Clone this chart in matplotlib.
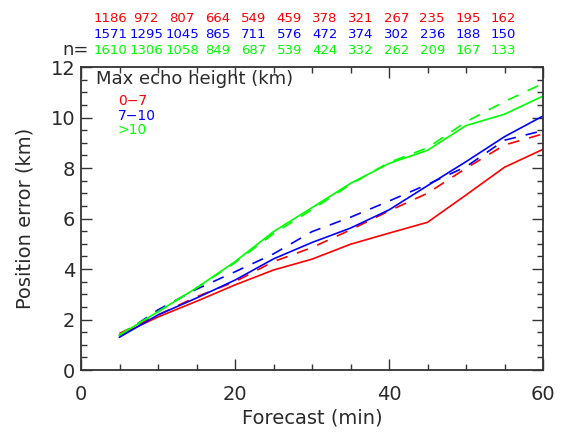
import numpy as np
import matplotlib
matplotlib.use('Agg')
import matplotlib.pyplot as plt
from matplotlib.ticker import MultipleLocator

# forecast lead times (min)
lead = [5, 10, 15, 20, 25, 30, 35, 40, 45, 50, 55, 60]

# position error (km), solid and dashed curves per echo-height class
red_solid = [1.38, 2.10, 2.72, 3.37, 3.96, 4.39, 4.98, 5.42, 5.85, 6.93, 8.03, 8.74]
red_dash = [1.45, 2.18, 2.90, 3.50, 4.29, 4.85, 5.55, 6.30, 7.00, 7.99, 8.91, 9.35]
blue_solid = [1.30, 2.18, 2.85, 3.56, 4.40, 5.05, 5.62, 6.34, 7.30, 8.25, 9.24, 10.06]
blue_dash = [1.35, 2.38, 3.20, 3.89, 4.60, 5.48, 6.05, 6.69, 7.35, 8.05, 9.10, 9.48]
green_solid = [1.38, 2.31, 3.25, 4.29, 5.48, 6.43, 7.39, 8.18, 8.70, 9.68, 10.13, 10.85]
green_dash = [1.40, 2.30, 3.25, 4.25, 5.40, 6.35, 7.35, 8.22, 8.80, 9.83, 10.63, 11.35]

# sample counts
n_red = [1186, 972, 807, 664, 549, 459, 378, 321, 267, 235, 195, 162]
n_blue = [1571, 1295, 1045, 865, 711, 576, 472, 374, 302, 236, 188, 150]
n_green = [1610, 1306, 1058, 849, 687, 539, 424, 332, 262, 209, 167, 133]

classes = ['0\u22127', '7\u221210', '>10']

RED, BLUE, GREEN = '#ff0000', '#0000ff', '#00ff00'
INK = '#2a2a2a'

fig = plt.figure(figsize=(5.63, 4.32), dpi=100)
ax = fig.add_axes([81 / 563, 1 - 370 / 432, 462 / 563, 303 / 432])

lw = 1.2
dash = (0, (7, 6))
for solid, dashed, c in [(red_solid, red_dash, RED),
                         (blue_solid, blue_dash, BLUE),
                         (green_solid, green_dash, GREEN)]:
    ax.plot(lead, solid, '-', color=c, lw=lw)
    ax.plot(lead, dashed, linestyle=dash, color=c, lw=lw)

ax.set_xlim(0, 60)
ax.set_ylim(0, 12)
ax.xaxis.set_major_locator(MultipleLocator(20))
ax.xaxis.set_minor_locator(MultipleLocator(5))
ax.yaxis.set_major_locator(MultipleLocator(2))
ax.yaxis.set_minor_locator(MultipleLocator(0.5))
ax.tick_params(which='both', direction='in', top=True, right=True,
               labelsize=14, color='#333333', labelcolor=INK)
ax.tick_params(which='major', length=8, width=1)
ax.tick_params(which='minor', length=4, width=1)
ax.tick_params(axis='y', pad=4)
ax.tick_params(axis='x', pad=11)
for s in ax.spines.values():
    s.set_linewidth(1.3)
    s.set_color('#333333')

ax.set_xlabel('Forecast (min)', fontsize=14, labelpad=3, color=INK)
ax.set_ylabel('Position error (km)', fontsize=14, labelpad=12, color=INK)

# legend block
ax.text(0.033, 0.99, 'Max echo height (km)', transform=ax.transAxes,
        fontsize=13, va='top', ha='left', color=INK)
for i, (lab, c) in enumerate(zip(classes, [RED, BLUE, GREEN])):
    ax.text(0.08, 0.91 - i * 0.048, lab, transform=ax.transAxes,
            fontsize=10, va='top', ha='left', color=c)

# sample counts above the plot
x0, dx = 110.5 / 563, 35.75 / 563
for row, (counts, c) in enumerate([(n_red, RED), (n_blue, BLUE), (n_green, GREEN)]):
    y = 1 - (18 + 16 * row) / 432
    for i, v in enumerate(counts):
        fig.text(x0 + i * dx, y, str(v), color=c, fontsize=9.5,
                 ha='center', va='center')
fig.text(89 / 563, 1 - 50 / 432, 'n=', color=INK, fontsize=13,
         ha='right', va='center')

fig.savefig('out.png', dpi=100)
